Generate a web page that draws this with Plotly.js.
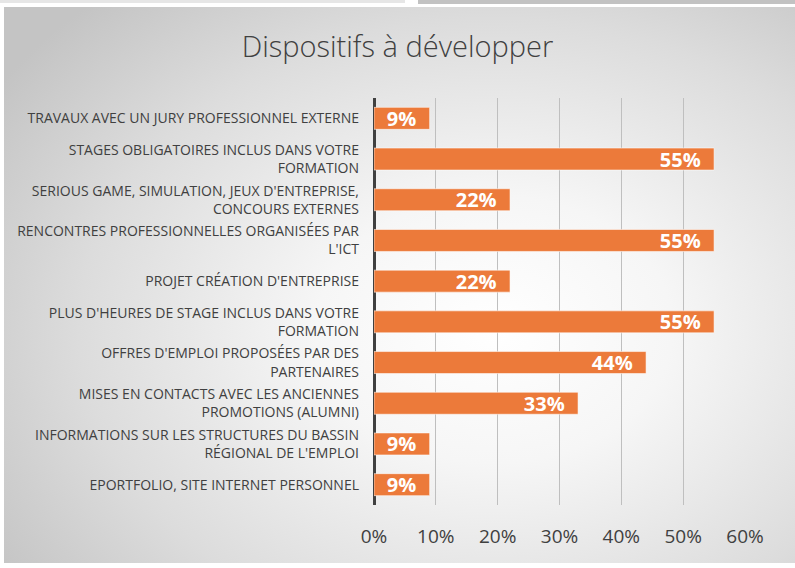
<!DOCTYPE html>
<html>
<head>
<meta charset="utf-8">
<script src="https://cdn.plot.ly/plotly-3.0.1.min.js"></script>
<style>
  html, body { margin: 0; padding: 0; width: 795px; height: 568px; overflow: hidden; background: #ffffff; }
  #strip1 { position: absolute; left: 0; top: 0; width: 405px; height: 3px; background: #e6e6e6; }
  #strip2 { position: absolute; left: 418px; top: 0; width: 377px; height: 4px; background: #c2c2c2; }
  #frame { position: absolute; left: 4px; top: 7px; width: 791px; height: 556px;
           background: radial-gradient(ellipse 75% 80% at 62% 58%, #ffffff 0%, #f6f6f6 30%, #dcdcdc 70%, #c4c4c4 100%); }
  #chart { position: absolute; left: 0; top: 0; width: 795px; height: 568px; }
</style>
</head>
<body>
<div id="strip1"></div>
<div id="strip2"></div>
<div id="frame"></div>
<div id="chart"></div>
<script>
const categories = [
  "TRAVAUX AVEC UN JURY PROFESSIONNEL EXTERNE",
  "STAGES OBLIGATOIRES INCLUS DANS VOTRE<br>FORMATION",
  "SERIOUS GAME, SIMULATION, JEUX D'ENTREPRISE,<br>CONCOURS EXTERNES",
  "RENCONTRES PROFESSIONNELLES ORGANISÉES PAR<br>L'ICT",
  "PROJET CRÉATION D'ENTREPRISE",
  "PLUS D'HEURES DE STAGE INCLUS DANS VOTRE<br>FORMATION",
  "OFFRES D'EMPLOI PROPOSÉES PAR DES<br>PARTENAIRES",
  "MISES EN CONTACTS AVEC LES ANCIENNES<br>PROMOTIONS (ALUMNI)",
  "INFORMATIONS SUR LES STRUCTURES DU BASSIN<br>RÉGIONAL DE L'EMPLOI",
  "EPORTFOLIO, SITE INTERNET PERSONNEL"
];
const values = [0.09, 0.55, 0.22, 0.55, 0.22, 0.55, 0.44, 0.33, 0.09, 0.09];
const xTickValues = [0, 0.1, 0.2, 0.3, 0.4, 0.5, 0.6];
const xTickLabels = ["0%", "10%", "20%", "30%", "40%", "50%", "60%"];
const chartTitle = "Dispositifs à développer";

const trace = {
  type: "bar",
  orientation: "h",
  y: categories,
  x: values,
  marker: { color: "#EC7A3A", line: { color: "rgba(255,255,255,0.55)", width: 1 } },
  texttemplate: "%{x:.0%}\u00a0\u00a0",
  textposition: "inside",
  insidetextanchor: "end",
  textangle: 0,
  constraintext: "none",
  textfont: { family: "Open Sans", size: 20, color: "#ffffff", weight: "bold" },
  hoverinfo: "skip"
};

const layout = {
  width: 795,
  height: 568,
  paper_bgcolor: "rgba(0,0,0,0)",
  plot_bgcolor: "rgba(0,0,0,0)",
  margin: { l: 374, r: 50, t: 98, b: 63 },
  title: {
    text: chartTitle,
    x: 0.5, xanchor: "center", xref: "container",
    y: 1 - 47 / 568, yref: "container", yanchor: "middle",
    font: { family: "Open Sans", size: 29, color: "#404040", weight: 300 }
  },
  bargap: 0.46,
  showlegend: false,
  xaxis: {
    range: [0, 0.6],
    tickvals: xTickValues,
    ticktext: xTickLabels,
    showgrid: true,
    gridcolor: "#bfbfbf",
    gridwidth: 1,
    zeroline: true,
    zerolinecolor: "#404040",
    zerolinewidth: 3,
    showline: false,
    ticks: "",
    ticklabelstandoff: 18,
    tickfont: { family: "Open Sans", size: 19, color: "#404040" },
    fixedrange: true
  },
  yaxis: {
    autorange: "reversed",
    showgrid: false,
    zeroline: false,
    showline: false,
    ticks: "",
    ticklabelstandoff: 14,
    tickfont: { family: "Open Sans", size: 14, color: "#404040" },
    fixedrange: true
  }
};

Plotly.newPlot("chart", [trace], layout, { displayModeBar: false, staticPlot: true });
</script>
</body>
</html>
